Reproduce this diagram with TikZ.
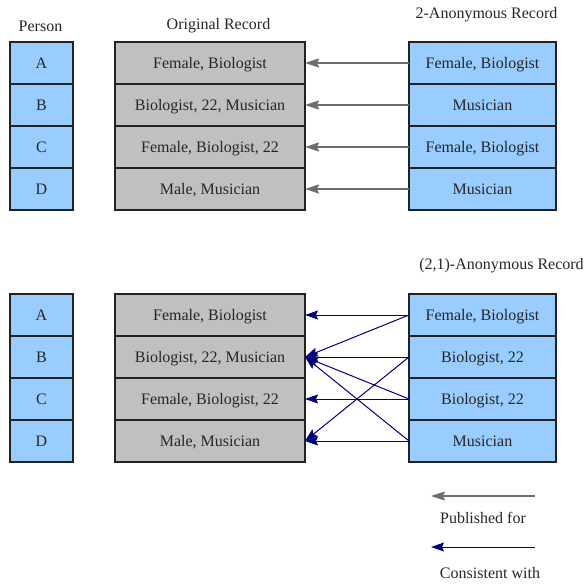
\documentclass[tikz,border=0pt]{standalone}
\usepackage{fontspec}
\setmainfont{Liberation Serif}
\usetikzlibrary{arrows.meta}
\definecolor{cellblue}{HTML}{99CCFF}
\definecolor{cellgray}{HTML}{C0C0C0}
\definecolor{arrgray}{HTML}{6E6E6E}
\definecolor{arrblue}{HTML}{000080}
\definecolor{edge}{HTML}{222222}
\begin{document}
\begin{tikzpicture}[x=1pt,y=-1pt,
  cell/.style={draw=edge,line width=1.2pt,inner sep=0pt,outer sep=0pt,minimum height=42pt,
    text height=11.5pt,text depth=1.5pt,
    font=\fontsize{16}{19}\selectfont,text=black!85},
  person/.style={cell,fill=cellblue,minimum width=63pt},
  orig/.style={cell,fill=cellgray,minimum width=190pt},
  anon/.style={cell,fill=cellblue,minimum width=147pt},
  lbl/.style={inner sep=0pt,font=\fontsize{16}{19}\selectfont,text=black!85},
  pub/.style={draw=arrgray,line width=1.6pt,-{Stealth[length=14pt,width=9pt,inset=2pt]}},
  cons/.style={draw=arrblue,line width=1pt,-{Stealth[length=13pt,width=9pt,inset=2pt]}}]
\useasboundingbox (0,0) rectangle (587,584);
% headers
\node[lbl] (hperson) at (40.5,26) {Person};
\node[lbl] (horig) at (218.5,26) {Original Record};
\node[lbl] (hanon) at (486.5,15) {2-Anonymous Record};
\node[lbl] (hanonb) at (501.5,266) {(2,1)-Anonymous Record};
% top section
\node[person] (pA) at (41.5,63) {A};
\node[person] (pB) at (41.5,105) {B};
\node[person] (pC) at (41.5,147) {C};
\node[person] (pD) at (41.5,189) {D};
\node[orig] (oA) at (210,63) {Female, Biologist};
\node[orig] (oB) at (210,105) {Biologist, 22, Musician};
\node[orig] (oC) at (210,147) {Female, Biologist, 22};
\node[orig] (oD) at (210,189) {Male, Musician};
\node[anon] (aA) at (482.5,63) {Female, Biologist};
\node[anon] (aB) at (482.5,105) {Musician};
\node[anon] (aC) at (482.5,147) {Female, Biologist};
\node[anon] (aD) at (482.5,189) {Musician};
\draw[pub] (aA.west) -- (oA.east);
\draw[pub] (aB.west) -- (oB.east);
\draw[pub] (aC.west) -- (oC.east);
\draw[pub] (aD.west) -- (oD.east);
% bottom section
\node[person] (qA) at (41.5,315) {A};
\node[person] (qB) at (41.5,357) {B};
\node[person] (qC) at (41.5,399) {C};
\node[person] (qD) at (41.5,441) {D};
\node[orig] (rA) at (210,315) {Female, Biologist};
\node[orig] (rB) at (210,357) {Biologist, 22, Musician};
\node[orig] (rC) at (210,399) {Female, Biologist, 22};
\node[orig] (rD) at (210,441) {Male, Musician};
\node[anon] (bA) at (482.5,315) {Female, Biologist};
\node[anon] (bB) at (482.5,357) {Biologist, 22};
\node[anon] (bC) at (482.5,399) {Biologist, 22};
\node[anon] (bD) at (482.5,441) {Musician};
\draw[cons] (bA.west) -- (rA.east);
\draw[cons] (bA.west) -- (rB.east);
\draw[cons] (bB.west) -- (rB.east);
\draw[cons] (bB.west) -- (rD.east);
\draw[cons] (bC.west) -- (rC.east);
\draw[cons] (bC.west) -- (rB.east);
\draw[cons] (bD.west) -- (rD.east);
\draw[cons] (bD.west) -- (rB.east);
% legend
\coordinate (g1) at (535,496);
\coordinate (g2) at (431,496);
\coordinate (c1) at (535,547);
\coordinate (c2) at (431,547);
\draw[pub,line width=1.3pt] (g1) -- (g2);
\draw[cons] (c1) -- (c2);
\node[lbl] (lpub) at (483,518) {Published for};
\node[lbl] (lcons) at (490,573) {Consistent with};
\end{tikzpicture}
\end{document}
